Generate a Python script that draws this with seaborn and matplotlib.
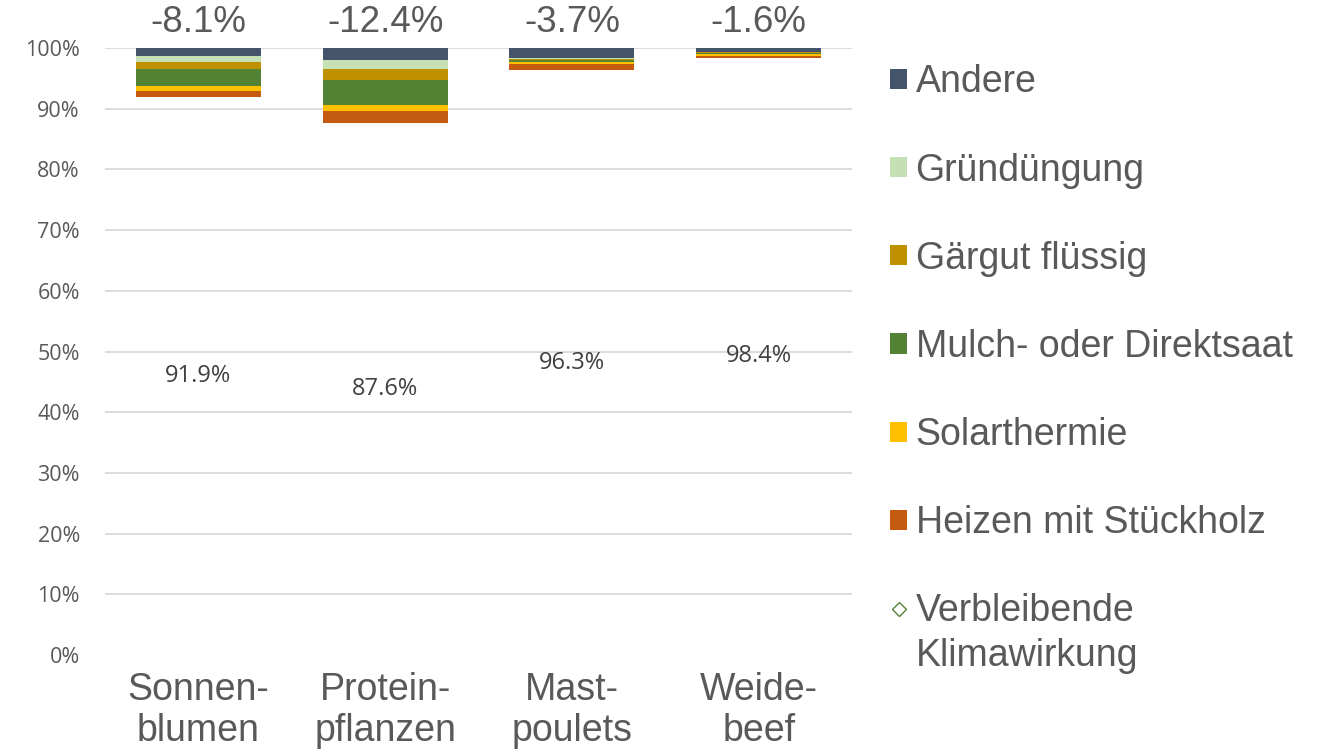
import numpy as np
import pandas as pd
import matplotlib.pyplot as plt
import seaborn as sns
from matplotlib.patches import Patch
from matplotlib.lines import Line2D

# categories and values (percent of original climate impact)
categories = ["Sonnen-\nblumen", "Protein-\npflanzen", "Mast-\npoulets", "Weide-\nbeef"]
remaining = [91.9, 87.6, 96.3, 98.4]
heizen = [1.1, 2.1, 1.0, 0.35]
solar = [0.8, 0.9, 0.45, 0.3]
mulch = [2.8, 4.1, 0.2, 0.15]
gaergut = [1.1, 1.8, 0.2, 0.15]
gruen = [1.0, 1.5, 0.25, 0.05]
andere = [1.3, 2.0, 1.6, 0.6]
reduction = ["-8.1%", "-12.4%", "-3.7%", "-1.6%"]

series = ["Andere", "Gründüngung", "Gärgut flüssig", "Mulch- oder Direktsaat",
          "Solarthermie", "Heizen mit Stückholz"]
colors = {"Andere": "#44546A", "Gründüngung": "#C5E0B4", "Gärgut flüssig": "#BF9000",
          "Mulch- oder Direktsaat": "#548235", "Solarthermie": "#FFC000",
          "Heizen mit Stückholz": "#C55A11"}

# stacked from bottom; the remaining part has no fill
stack = [("Heizen mit Stückholz", heizen), ("Solarthermie", solar),
         ("Mulch- oder Direktsaat", mulch), ("Gärgut flüssig", gaergut),
         ("Gründüngung", gruen), ("Andere", andere)]

sns.set_theme(style="white")
plt.rcParams["font.family"] = ["Liberation Sans", "DejaVu Sans"]
txt = "#595959"

fig = plt.figure(figsize=(13.19, 7.49), dpi=100)
ax = fig.add_axes([0.0796, 0.1255, 0.5664, 0.8104])

for y in np.arange(0.1, 1.01, 0.1):
    ax.axhline(y, color="#D9D9D9", lw=1.3, zorder=1)

bottom = np.array(remaining) / 100
for name, vals in stack:
    df = pd.DataFrame({"cat": categories, "val": np.array(vals) / 100})
    sns.barplot(data=df, x="cat", y="val", color=colors[name], width=0.67, linewidth=0,
                saturation=1, ax=ax, zorder=2, bottom=bottom)
    bottom = bottom + df["val"].values

ax.set_ylim(0, 1)
ax.set_xlim(-0.5, 3.5)
ax.set_yticks(np.arange(0, 1.01, 0.1))
ax.set_yticklabels([f"{int(round(v * 100))}%" for v in np.arange(0, 1.01, 0.1)],
                   fontsize=15.5, color=txt, family=["Open Sans", "DejaVu Sans"])
ax.set_xticks(range(4))
ax.set_xticklabels(categories, fontsize=27, color=txt, linespacing=1.2)
ax.tick_params(axis="x", pad=12, length=0)
ax.tick_params(axis="y", pad=18, length=0)
for s in ax.spines.values():
    s.set_visible(False)
ax.set_xlabel("")
ax.set_ylabel("")

for i in range(4):
    ax.text(i, remaining[i] / 200, f"{remaining[i]:.1f}%", ha="center", va="center",
            fontsize=17, color="#404040", family=["Open Sans", "DejaVu Sans"], zorder=3)
    ax.text(i, 1.042, reduction[i], ha="center", va="center", fontsize=26.5,
            color=txt, clip_on=False)

handles = [Patch(facecolor=colors[s], edgecolor="none", label=s) for s in series]
handles.append(Line2D([], [], marker="D", markersize=7, markerfacecolor="white",
                      markeredgecolor="#548235", markeredgewidth=1, linestyle="none",
                      label="Verbleibende"))
leg = fig.legend(handles=handles, loc="upper left", bbox_to_anchor=(0.6495, 0.959),
                 frameon=False, fontsize=27, labelcolor=txt, handlelength=0.45,
                 handleheight=0.45, handletextpad=0.22, labelspacing=1.39)

# second line of the last legend entry
fig.canvas.draw()
bb = leg.get_texts()[-1].get_window_extent().transformed(fig.transFigure.inverted())
fig.text(bb.x0, bb.y0 - 0.06, "Klimawirkung", fontsize=27, color=txt, va="bottom")

fig.savefig("out.png", dpi=100)
